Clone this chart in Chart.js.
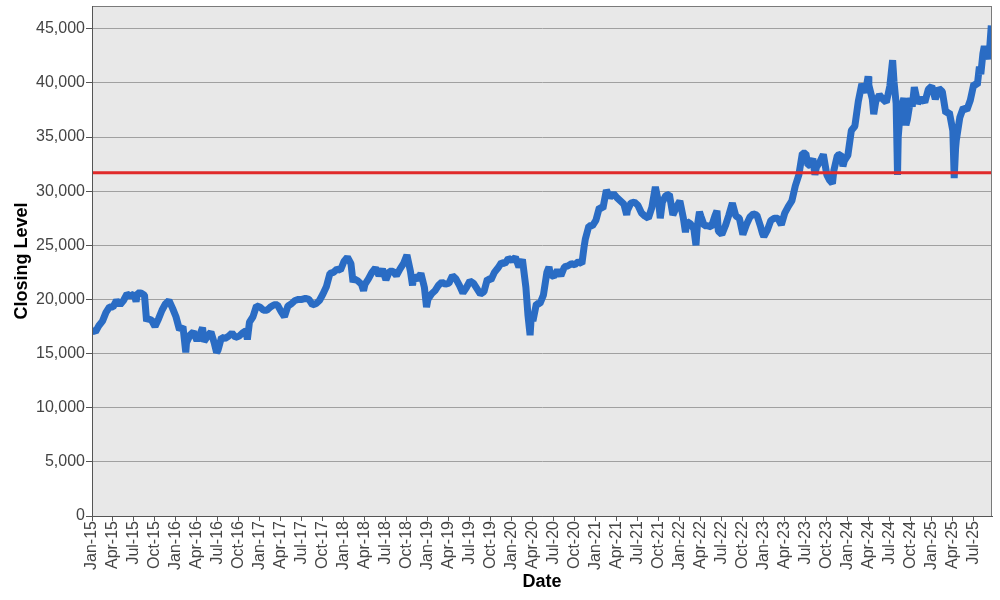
<!DOCTYPE html>
<html>
<head>
<meta charset="utf-8">
<script src="https://cdn.jsdelivr.net/npm/chart.js@4.4.1/dist/chart.umd.min.js"></script>
<style>
  html, body { margin: 0; padding: 0; background: #ffffff; }
  #c { display: block; }
</style>
</head>
<body>
<canvas id="c" width="1000" height="600"></canvas>
<script>
// ---- Data ----
// Month index: 0 = start of Jan 2015, 1 = start of Feb 2015, ...
const monthIndex = [
  0, 0.5, 1, 1.5, 2, 2.5, 3, 3.5, 4, 4.5, 5, 5.5, 6, 6.3, 6.5, 7, 7.5, 7.8, 8, 8.5, 9, 9.5, 10, 10.5, 11, 11.5,
  12, 12.5, 13, 13.4, 13.5, 14, 14.5, 15, 15.5, 15.8, 16, 16.5, 17, 17.5, 17.8, 18, 18.5, 19, 19.5, 20, 20.5, 21, 21.5, 22, 22.2, 22.5, 23, 23.5,
  24, 24.5, 25, 25.5, 26, 26.5, 27, 27.5, 28, 28.5, 29, 29.5, 30, 30.5, 31, 31.5, 32, 32.5, 33, 33.5, 34, 34.5, 35, 35.5,
  36, 36.5, 37, 37.3, 37.5, 38, 38.5, 38.8, 39, 39.5, 40, 40.5, 41, 41.5, 42, 42.5, 43, 43.5, 44, 44.5, 45, 45.5, 45.8, 46, 46.5, 47, 47.5, 47.8,
  48, 48.5, 49, 49.5, 50, 50.5, 51, 51.5, 52, 52.5, 53, 53.5, 54, 54.5, 55, 55.5, 56, 56.5, 57, 57.5, 58, 58.5, 59, 59.5,
  60, 60.5, 61, 61.5, 62, 62.3, 62.6, 62.8, 63, 63.5, 64, 64.5, 65, 65.3, 65.5, 66, 66.5, 67, 67.5, 68, 68.5, 69, 69.5, 70, 70.3, 70.5, 71, 71.5,
  72, 72.5, 73, 73.5, 74, 74.5, 75, 75.5, 76, 76.4, 76.5, 77, 77.5, 78, 78.5, 79, 79.5, 80, 80.5, 81, 81.2, 81.5, 82, 82.5, 83, 83.5,
  84, 84.5, 84.8, 85, 85.5, 86, 86.3, 86.5, 86.8, 87, 87.5, 88, 88.5, 89, 89.3, 89.5, 90, 90.5, 91, 91.5, 92, 92.5, 93, 93.5, 94, 94.5, 95, 95.5, 95.8,
  96, 96.5, 97, 97.5, 98, 98.5, 99, 99.5, 100, 100.5, 101, 101.5, 102, 102.3, 102.5, 103, 103.3, 103.5, 104, 104.5, 105, 105.4, 105.8, 106, 106.5, 107, 107.3, 107.5,
  108, 108.5, 109, 109.5, 110, 110.5, 110.9, 111, 111.5, 111.7, 112, 112.5, 113, 113.5, 114, 114.4, 114.6, 114.9, 115.1, 115.2, 115.5, 116, 116.3, 116.5, 117, 117.2, 117.5, 118, 118.5, 119, 119.5,
  120, 120.5, 121, 121.5, 122, 122.5, 123, 123.2, 123.4, 123.5, 124, 124.5, 125, 125.5, 126, 126.5, 126.8, 127, 127.3, 127.5, 128, 128.3, 128.5
];
const closingLevel = [
  17200, 17000, 17600, 18000, 18800, 19300, 19300, 19900, 19500, 19900, 20500, 20300, 20500, 19800, 20600, 20600, 20400, 18000, 18200, 18100, 17500, 18200, 19000, 19600, 19900, 19200,
  18400, 17200, 17500, 15100, 16000, 16700, 17000, 16200, 16900, 17400, 16100, 16600, 17000, 15900, 15100, 15300, 16500, 16400, 16600, 16900, 16500, 16600, 16900, 17100, 16300, 17900, 18400, 19400,
  19300, 19000, 19000, 19300, 19500, 19500, 18900, 18400, 19400, 19600, 19900, 20000, 20000, 20100, 20000, 19500, 19600, 19900, 20500, 21200, 22400, 22500, 22800, 22700,
  23500, 23900, 23300, 21600, 21900, 21700, 21400, 20800, 21400, 21900, 22500, 22900, 22200, 22800, 21800, 22600, 22600, 22200, 22800, 23300, 24100, 22600, 21300, 22200, 21800, 22400, 21100, 19300,
  20000, 20500, 20800, 21300, 21600, 21400, 21500, 22200, 21900, 21300, 20600, 21100, 21700, 21500, 21000, 20500, 20700, 21900, 21800, 22500, 22900, 23400, 23300, 23800,
  23600, 23900, 23000, 23700, 21100, 18500, 16700, 18800, 18000, 19600, 19600, 20400, 22500, 23000, 22300, 22100, 22700, 22200, 23000, 23100, 23300, 23200, 23500, 23300, 24800, 25600, 26800, 26800,
  27300, 28500, 28400, 30100, 29400, 29800, 29400, 29100, 28800, 27800, 28200, 28900, 29000, 28700, 28000, 27700, 27500, 28500, 30400, 28800, 27500, 29000, 29600, 29700, 27800, 28500,
  29100, 27500, 26200, 27200, 27000, 26500, 25000, 26800, 28100, 27700, 26800, 26800, 26700, 27700, 28200, 26300, 26000, 26800, 27800, 28900, 27700, 27500, 26000, 26900, 27600, 27900, 27800, 26800, 26100,
  25800, 26400, 27300, 27500, 27500, 26900, 28000, 28600, 29100, 30500, 31500, 33500, 33500, 32400, 32400, 33000, 31500, 32200, 32700, 33400, 31500, 31000, 30700, 31900, 33300, 33400, 32300, 32800,
  33300, 35600, 36000, 38300, 39900, 39100, 40600, 39800, 38500, 37100, 38300, 38900, 38500, 38200, 39700, 42100, 40100, 38100, 31500, 35000, 37400, 38600, 36100, 36600, 38600, 37800, 39600, 38100, 38600, 38200, 39400,
  39700, 38500, 39500, 39200, 37200, 37300, 35600, 31200, 34000, 34700, 36800, 37700, 37500, 38400, 39900, 39800, 41500, 40800, 42700, 43400, 42200, 43500, 45300
];
const monthNames = ['Jan', 'Feb', 'Mar', 'Apr', 'May', 'Jun', 'Jul', 'Aug', 'Sep', 'Oct', 'Nov', 'Dec'];
const startYear = 2015;
const referenceLevel = 31700;
const xAxisMax = 128.6;
const yAxisMax = 47100;
const yTickValues = [0, 5000, 10000, 15000, 20000, 25000, 30000, 35000, 40000, 45000];
const xTickStepMonths = 3;
const xTickLast = 126; // Jul-25
const xTickValues = [];
for (let m = 0; m <= xTickLast; m += xTickStepMonths) xTickValues.push(m);

function monthLabel(m) {
  const y = startYear + Math.floor(m / 12);
  return monthNames[m % 12] + '-' + String(y).slice(2);
}

const plotFrame = {
  id: 'plotFrame',
  beforeDraw(chart) {
    const a = chart.chartArea, ctx = chart.ctx;
    ctx.save();
    ctx.fillStyle = '#e8e8e8';
    ctx.fillRect(a.left, a.top, a.right - a.left, a.bottom - a.top);
    ctx.restore();
  },
  afterDraw(chart) {
    const a = chart.chartArea, ctx = chart.ctx;
    ctx.save();
    ctx.strokeStyle = '#7a7a7a';
    ctx.lineWidth = 1;
    ctx.strokeRect(a.left + 0.5, a.top + 0.5, a.right - a.left - 1, a.bottom - a.top);
    ctx.strokeStyle = '#555555';
    ctx.beginPath();
    ctx.moveTo(a.left + 0.5, a.top);
    ctx.lineTo(a.left + 0.5, a.bottom + 0.5);
    ctx.lineTo(a.right, a.bottom + 0.5);
    ctx.stroke();
    ctx.restore();
  }
};

const font = 'Liberation Sans, Arial, sans-serif';

new Chart(document.getElementById('c'), {
  type: 'line',
  data: {
    datasets: [
      {
        label: 'Reference',
        data: [{ x: 0, y: referenceLevel }, { x: xAxisMax, y: referenceLevel }],
        borderColor: '#e02a2a',
        borderWidth: 3,
        pointRadius: 0,
        order: 0
      },
      {
        label: 'Closing Level',
        data: monthIndex.map((m, i) => ({ x: m, y: closingLevel[i] })),
        borderColor: '#2a6cc4',
        borderWidth: 7,
        pointRadius: 0,
        tension: 0,
        borderJoinStyle: 'bevel',
        order: 1
      }
    ]
  },
  options: {
    responsive: false,
    animation: false,
    devicePixelRatio: 1,
    layout: { padding: { top: 6, right: 8, left: 0, bottom: 0 } },
    plugins: { legend: { display: false }, tooltip: { enabled: false } },
    scales: {
      x: {
        type: 'linear',
        min: 0,
        max: xAxisMax,
        afterBuildTicks: (s) => { s.ticks = xTickValues.map(v => ({ value: v })); },
        afterFit: (s) => { s.height = 84; s.paddingLeft = 0; s.paddingRight = 0; },
        ticks: {
          autoSkip: false,
          minRotation: 90,
          maxRotation: 90,
          padding: 0,
          color: '#444444',
          font: { family: font, size: 16 },
          callback: (v) => monthLabel(v)
        },
        grid: { drawOnChartArea: false, drawTicks: true, tickLength: 5, tickColor: '#555555' },
        border: { color: '#555555' },
        title: {
          display: true,
          text: 'Date',
          color: '#000000',
          font: { family: font, size: 18, weight: 'bold' },
          padding: { top: 0, bottom: 7 }
        }
      },
      y: {
        min: 0,
        max: yAxisMax,
        afterFit: (s) => { s.width = 92; s.paddingTop = 0; s.paddingBottom = 0; },
        afterBuildTicks: (s) => { s.ticks = yTickValues.map(v => ({ value: v })); },
        ticks: {
          autoSkip: false,
          padding: 1,
          color: '#444444',
          font: { family: font, size: 16 },
          callback: (v) => v.toLocaleString('en-US')
        },
        grid: { color: '#a0a0a0', tickLength: 6, tickColor: '#555555' },
        border: { color: '#555555' },
        title: {
          display: true,
          text: 'Closing Level',
          color: '#000000',
          font: { family: font, size: 18, weight: 'bold' },
          padding: { top: 11, bottom: 0 }
        }
      }
    }
  },
  plugins: [plotFrame]
});
</script>
</body>
</html>
